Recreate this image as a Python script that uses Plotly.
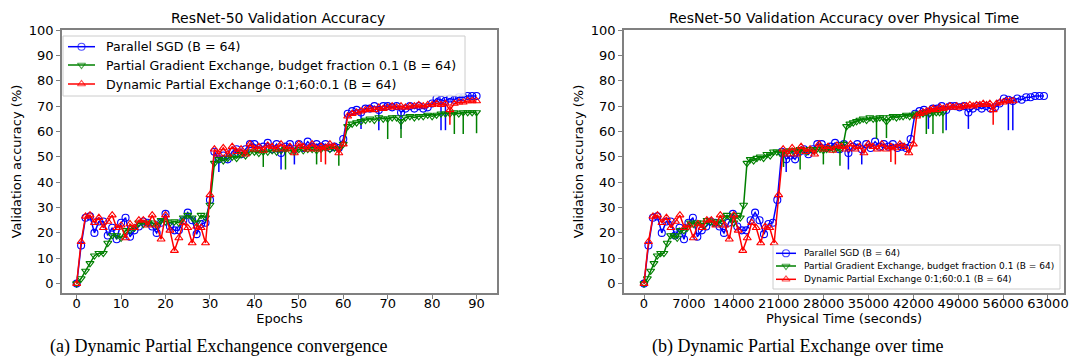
import plotly.graph_objects as go

# ---------------- data ----------------
epochs = list(range(91))

acc_sgd = [0, 15, 26, 26.5, 20, 24.5, 24.5, 19, 22, 17.5,
           24, 26, 18.5, 21, 22.5, 24.5, 24, 22.5, 20, 24,
           27.5, 22.5, 21, 21, 25, 28, 25, 19.5, 23.5, 24,
           33, 52, 49, 50.5, 49, 52, 53, 51, 53, 55,
           55, 53.5, 54, 55.5, 53, 55, 51.5, 54, 55, 53,
           55, 53.5, 56, 54, 55, 54, 55, 53.5, 54, 53.5,
           57, 67, 68, 68.5, 67.5, 69, 69, 70, 68.5, 70,
           70, 69.5, 70, 67.5, 69, 70, 69, 70, 69, 69.5,
           71, 73, 72.5, 72, 73, 72.5, 73.5, 73.5, 74, 74, 74]

acc_partial = [0, 2, 5, 8, 11, 12, 12, 16, 19, 19,
               18, 21, 21, 22, 24, 23.5, 24, 24, 23, 25,
               24.5, 24, 24.5, 24, 26, 27, 26, 24, 27, 26,
               31, 47.5, 49, 48.5, 49.5, 50, 49.5, 51, 50.5, 52,
               52, 51.5, 52, 52, 52.5, 52, 52.5, 53, 52.5, 52,
               53, 52.5, 53, 53, 52.5, 53, 53.5, 53, 53.5, 53,
               55, 62, 63, 63.5, 64, 64.5, 65, 64.5, 65.5, 65,
               65, 65.5, 65.5, 64, 65.5, 66, 65.5, 66, 66, 66.5,
               66, 66.5, 67, 67, 67, 67.5, 67, 67.5, 67.5, 67.5, 67.5]

acc_dynamic = [0, 16.5, 26.5, 27, 24, 26, 22, 24.5, 27, 22,
               23, 18, 23.5, 22, 25, 25, 23, 27, 23, 17.5,
               27, 21, 13, 18, 24, 22, 16, 22.5, 22, 16,
               35, 53, 51, 53.5, 51, 54, 52, 53, 51, 55,
               53, 54, 52.5, 54.5, 54, 53, 55, 53, 54, 51.5,
               55, 54, 53, 55, 53, 54, 53.5, 55, 54, 51.5,
               55, 66, 67, 67.5, 68, 68.5, 69, 68.5, 69.5, 69,
               69.5, 70, 69.5, 70, 69.5, 70, 70, 70.5, 70, 70.5,
               70.5, 71, 70.5, 71, 68.5, 71, 71.5, 71.5, 72, 72, 72]

# occasional low readings during an epoch (epoch, lowest accuracy)
dips_sgd_epoch = [32, 46, 49, 64, 68, 73, 82, 83]
dips_sgd_low = [44, 45, 47, 61, 60.5, 61, 60.5, 60.5]
dips_partial_epoch = [42, 47, 54, 59, 70, 73, 85, 87, 90]
dips_partial_low = [46, 45, 47, 46.5, 57, 57.4, 59, 59, 59.3]
dips_dynamic_epoch = [55, 56, 84]
dips_dynamic_low = [48, 47, 62.6]

# wall-clock seconds per epoch
sec_per_epoch_sgd = 693
sec_per_epoch_partial = 518
sec_per_epoch_dynamic_full = 700      # epochs 0-60, full exchange
sec_per_epoch_dynamic_partial = 519   # epochs 60-90, fraction 0.1
dynamic_switch_epoch = 60

time_ticks = [0, 7000, 14000, 21000, 28000, 35000, 42000, 49000, 56000, 63000]

# ---------------- helpers ----------------
W, H = 1072, 363


def minus_array(acc, dip_epochs, dip_lows):
    out = [0.0] * len(acc)
    for e, low in zip(dip_epochs, dip_lows):
        out[e] = acc[e] - low
    return out


time_sgd = [e * sec_per_epoch_sgd for e in epochs]
time_partial = [e * sec_per_epoch_partial for e in epochs]
time_dynamic = [
    e * sec_per_epoch_dynamic_full if e <= dynamic_switch_epoch
    else dynamic_switch_epoch * sec_per_epoch_dynamic_full
    + (e - dynamic_switch_epoch) * sec_per_epoch_dynamic_partial
    for e in epochs
]

series = [
    dict(name="Parallel SGD (B = 64)", acc=acc_sgd, t=time_sgd,
         dips=(dips_sgd_epoch, dips_sgd_low), color="#0000ff",
         symbol="circle-open"),
    dict(name="Partial Gradient Exchange, budget fraction 0.1 (B = 64)",
         acc=acc_partial, t=time_partial,
         dips=(dips_partial_epoch, dips_partial_low), color="#008000",
         symbol="triangle-down-open"),
    dict(name="Dynamic Partial Exchange 0:1;60:0.1 (B = 64)",
         acc=acc_dynamic, t=time_dynamic,
         dips=(dips_dynamic_epoch, dips_dynamic_low), color="#ff0000",
         symbol="triangle-up-open"),
]

MARKER_SIZE = 7

fig = go.Figure()
for s in series:
    am = minus_array(s["acc"], *s["dips"])
    common = dict(
        y=s["acc"], mode="lines+markers", name=s["name"], showlegend=False,
        line=dict(color=s["color"], width=1.5),
        marker=dict(symbol=s["symbol"], size=MARKER_SIZE, color=s["color"],
                    line=dict(width=1.1, color=s["color"])),
        error_y=dict(type="data", symmetric=False, array=[0] * len(am),
                     arrayminus=am, width=0, thickness=1.5,
                     color=s["color"]),
    )
    fig.add_trace(go.Scatter(x=epochs, xaxis="x", yaxis="y", **common))
    fig.add_trace(go.Scatter(x=s["t"], xaxis="x2", yaxis="y2", **common))

# ---------------- legends (drawn on a pixel-space overlay axis) ----------------
legend_annotations = []


def add_legend(box, rows, sample_x, text_x, font_size):
    x0, x1, y0, y1 = box
    fig.add_trace(go.Scatter(
        x=[x0, x1, x1, x0, x0], y=[y0, y0, y1, y1, y0], mode="lines",
        fill="toself", fillcolor="rgba(255,255,255,0.85)",
        line=dict(color="#cccccc", width=1), xaxis="x3", yaxis="y3",
        showlegend=False, hoverinfo="skip"))
    sx0, sx1 = sample_x
    for s, ry in zip(series, rows):
        fig.add_trace(go.Scatter(
            x=[sx0, (sx0 + sx1) / 2, sx1], y=[ry, ry, ry],
            mode="lines+markers", xaxis="x3", yaxis="y3",
            line=dict(color=s["color"], width=1.5),
            marker=dict(symbol=s["symbol"], size=[0, MARKER_SIZE, 0],
                        color=s["color"],
                        line=dict(width=1.1, color=s["color"])),
            showlegend=False, hoverinfo="skip"))
        legend_annotations.append(dict(
            text=s["name"], x=text_x, y=ry, xref="x3", yref="y3",
            xanchor="left", yanchor="middle", showarrow=False,
            font=dict(family="DejaVu Sans", size=font_size, color="#000")))


add_legend(box=(63, 465, 36, 96), rows=(46.7, 65, 84), sample_x=(68, 95),
           text_x=104, font_size=12.6)
add_legend(box=(773, 1060, 245, 289), rows=(253.3, 266, 279.3),
           sample_x=(776, 796), text_x=802, font_size=9)

# ---------------- axes & layout ----------------
axis_font = dict(family="DejaVu Sans", size=13, color="#000")
spine = "#808080"
y_common = dict(range=[-3.7, 100], tickvals=list(range(0, 101, 10)),
                showgrid=False, zeroline=False, showline=True, mirror=True,
                linecolor=spine, linewidth=1.5, ticks="outside", ticklen=4,
                tickcolor=spine, tickfont=axis_font, automargin=False,
                domain=[1 - 293 / H, 1 - 30 / H])
x_common = dict(showgrid=False, zeroline=False, showline=True, mirror=True,
                linecolor=spine, linewidth=1.5, ticks="outside", ticklen=4,
                tickcolor=spine, tickfont=axis_font, ticklabelstandoff=-6,
                automargin=False)


def label(text, x, y, size, family="DejaVu Sans"):
    return dict(text=text, x=x / W, y=1 - y / H, xref="paper",
                yref="paper", xanchor="center", yanchor="middle",
                showarrow=False,
                font=dict(family=family, size=size, color="#000"))


fig.update_layout(
    width=W, height=H,
    margin=dict(l=0, r=0, t=0, b=0, autoexpand=False),
    paper_bgcolor="white", plot_bgcolor="rgba(0,0,0,0)",
    font=dict(family="DejaVu Sans", color="#000"),
    showlegend=False,
    xaxis=dict(range=[-3.3, 94.6], tickvals=list(range(0, 91, 10)),
               domain=[62 / W, 497 / W],
               title=dict(text="Epochs", font=axis_font, standoff=0),
               anchor="y", **x_common),
    yaxis=dict(anchor="x",
               title=dict(text="Validation accuracy (%)", font=axis_font,
                          standoff=4),
               **y_common),
    xaxis2=dict(range=[-3120, 65500], tickvals=time_ticks, tickformat="d",
                domain=[624 / W, 1064 / W],
                title=dict(text="Physical Time (seconds)", font=axis_font,
                           standoff=0),
                anchor="y2", **x_common),
    yaxis2=dict(anchor="x2",
                title=dict(text="Validation accuracy (%)", font=axis_font,
                           standoff=4),
                **y_common),
    xaxis3=dict(range=[0, W], domain=[0, 1], visible=False, fixedrange=True,
                anchor="y3"),
    yaxis3=dict(range=[H, 0], domain=[0, 1], visible=False, fixedrange=True,
                anchor="x3"),
    annotations=[
        label("ResNet-50 Validation Accuracy", 278, 18, 14),
        label("ResNet-50 Validation Accuracy over Physical Time", 844, 18, 14),
        label("(a) Dynamic Partial Exchangence convergence", 219, 346, 18,
              "Liberation Serif"),
        label("(b) Dynamic Partial Exchange over time", 797, 346, 18,
              "Liberation Serif"),
    ] + legend_annotations,
)

fig.write_html("out.html")
